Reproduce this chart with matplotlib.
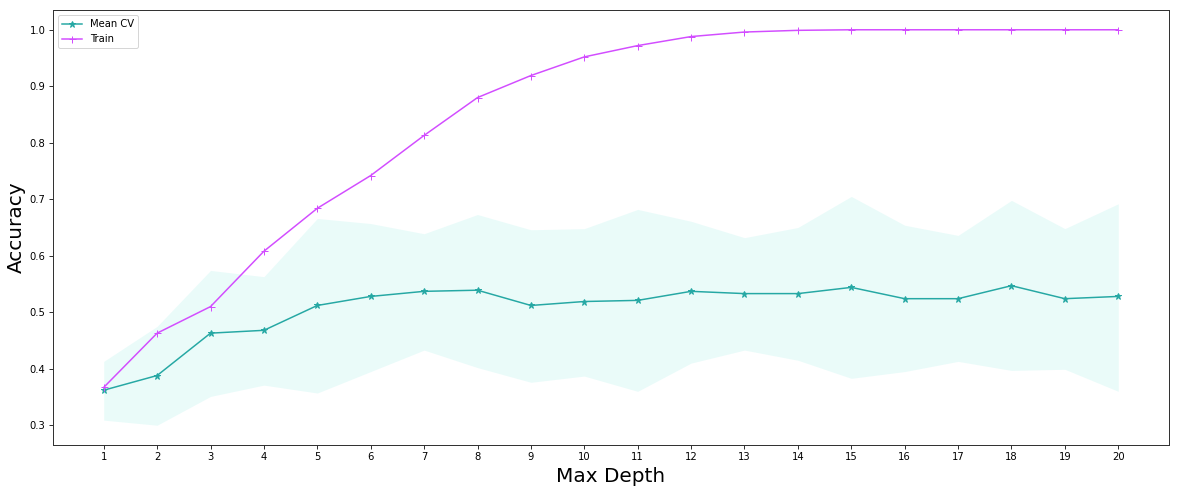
import matplotlib
matplotlib.use("Agg")
import matplotlib.pyplot as plt

depths = list(range(1, 21))
mean_cv = [0.362, 0.388, 0.463, 0.468, 0.512, 0.528, 0.537, 0.539, 0.512, 0.519,
           0.521, 0.537, 0.533, 0.533, 0.544, 0.524, 0.524, 0.547, 0.524, 0.528]
train = [0.367, 0.463, 0.510, 0.608, 0.684, 0.742, 0.813, 0.880, 0.919, 0.952,
         0.972, 0.988, 0.996, 0.999, 1.0, 1.0, 1.0, 1.0, 1.0, 1.0]
cv_upper = [0.413, 0.475, 0.574, 0.563, 0.666, 0.657, 0.639, 0.673, 0.646, 0.648,
            0.682, 0.661, 0.632, 0.650, 0.705, 0.654, 0.636, 0.698, 0.648, 0.692]
cv_lower = [0.309, 0.300, 0.351, 0.371, 0.357, 0.395, 0.433, 0.402, 0.376, 0.387,
            0.360, 0.410, 0.433, 0.415, 0.383, 0.395, 0.413, 0.397, 0.399, 0.360]

fig = plt.figure(figsize=(1179 / 72, 492 / 72), dpi=72)
ax = fig.add_axes([53 / 1179, 47 / 492, (1169 - 53) / 1179, (445 - 10) / 492])

ax.fill_between(depths, cv_lower, cv_upper, color="turquoise", alpha=0.11, linewidth=0)
ax.plot(depths, mean_cv, color="#26a8a4", marker="*", markersize=7, label="Mean CV")
ax.plot(depths, train, color="#d24dff", marker="+", markersize=7, label="Train")

ax.set_xticks(depths)
ax.set_xlabel("Max Depth", fontsize=20)
ax.set_ylabel("Accuracy", fontsize=20)
ax.tick_params(labelsize=10, color="#333333", width=1.0, length=4)
for s in ax.spines.values():
    s.set_color("#333333")
    s.set_linewidth(1.0)
ax.legend(loc="upper left", fontsize=10)

fig.savefig("out.png", dpi=72)
